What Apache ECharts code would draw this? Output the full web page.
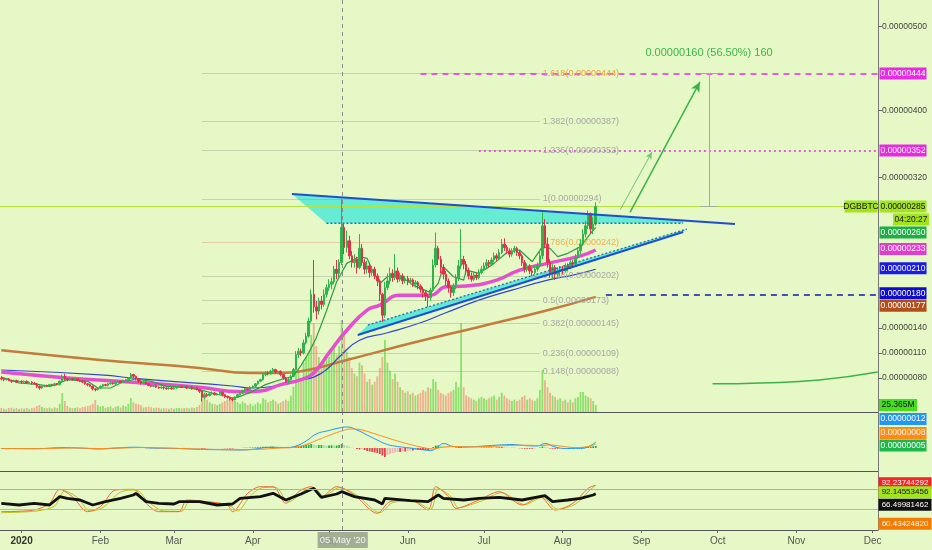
<!DOCTYPE html>
<html><head><meta charset="utf-8">
<script src="https://cdn.jsdelivr.net/npm/echarts@6/dist/echarts.min.js"></script>
<style>html,body{margin:0;padding:0;background:#e5f8c6;}#c{width:932px;height:550px;}</style>
</head><body><div id="c"></div>
<script>
// ---------- DATA (prices in satoshi, 1e-8 BTC); x = day index from 1 Jan 2020 ----------
const firstDay = -8; // 24 Dec 2019
const ohlc = [ // [open, close, low, high]
[80,79,77,82],[79,78,76,80],[78,79,77,80],[79,77,76,80],[77,76,74,78],[76,77,75,78],[77,75,74,78],[75,76,74,77],
[76,75,73,77],[75,76,74,77],[76,74,73,77],[74,75,73,76],[75,74,72,76],[74,73,72,75],[73,70,68,74],[70,68,66,71],[68,70,67,71],[70,71,69,72],
[71,70,69,72],[70,72,69,73],[72,71,70,73],[71,73,70,74],[73,72,71,74],[72,76,71,77],[76,82,75,84],[82,79,77,85],[79,78,76,80],[78,79,77,80],
[79,78,77,80],[78,79,77,80],[79,77,76,80],[77,76,75,78],[76,75,74,77],[75,73,72,76],[73,72,70,74],[72,70,69,73],[70,67,65,71],[67,66,64,68],
[66,68,65,69],
[68,70,67,71],[70,72,69,73],[72,71,70,73],[71,73,70,74],[73,74,72,75],[74,73,72,75],[73,75,72,76],[75,76,74,77],[76,75,74,77],[75,77,74,78],
[77,78,76,79],[78,80,77,81],[80,84,79,86],[84,82,80,85],[82,79,77,83],[79,76,74,80],[76,74,72,77],[74,75,73,76],[75,73,72,76],[73,71,70,74],
[71,70,69,72],[70,71,69,72],[71,69,68,72],[69,68,67,70],[68,69,67,70],[69,68,66,70],[68,67,66,69],[67,68,66,69],[68,67,66,69],
[67,68,66,69],[68,69,67,70],[69,70,68,71],[70,69,68,71],[69,70,68,71],[70,68,67,71],[68,69,67,70],[69,67,66,70],[67,68,66,69],[68,66,65,69],
[66,64,62,67],[64,57,52,65],[57,60,55,62],[60,59,57,62],[59,61,58,63],[61,62,60,64],[62,60,59,63],[60,61,59,62],[61,63,60,64],[63,60,58,64],
[60,58,56,61],[58,57,55,59],[57,55,53,58],[55,54,52,56],[54,57,53,58],[57,60,56,61],[60,62,59,63],[62,65,61,66],[65,67,64,68],[67,66,65,68],
[66,69,65,70],
[69,70,68,71],[70,73,69,74],[73,76,72,77],[76,78,75,79],[78,84,77,86],[84,86,82,88],[86,85,83,88],[85,88,84,90],[88,90,86,92],[90,87,85,91],
[87,88,85,89],[88,84,82,89],[84,80,78,85],[80,76,74,81],[76,78,74,80],[78,82,77,84],[82,90,81,92],[90,108,89,112],[108,112,104,116],[112,110,106,115],
[110,122,108,126],[122,130,120,134],[130,148,128,152],[148,180,146,186],[180,165,158,221],[165,160,150,172],[160,172,156,176],[172,168,162,178],[168,180,165,186],[180,188,176,192],
[188,192,184,198],[192,195,186,200],[195,210,192,214],[210,205,198,221],[205,218,200,222],[218,260,215,294],[260,236,228,265],[236,244,230,256],[244,226,222,250],[226,218,212,232],
[218,222,212,228],[222,212,205,225],[212,235,210,252],[235,218,214,240],[218,210,204,222],[210,214,205,220],[214,206,200,218],[206,210,202,214],[210,202,198,213],[202,196,190,205],
[196,180,172,198],[180,155,147,182],[155,188,152,195],[188,196,185,205],[196,205,192,212],[205,200,195,210],[200,208,197,228],[208,198,194,212],[198,202,195,206],[202,196,192,205],
[196,199,193,202],
[199,195,191,202],[195,197,192,200],[197,192,189,199],[192,194,188,197],[194,190,186,196],[190,186,182,192],[186,182,176,189],[182,178,172,185],[178,176,165,180],[176,185,172,188],
[185,215,183,222],[215,235,212,254],[235,222,215,238],[222,212,205,226],[212,204,198,216],[204,196,190,208],[196,188,182,199],[188,182,176,190],[182,190,178,193],[190,200,186,204],
[200,214,196,221],[214,222,210,258],[222,216,210,226],[216,208,204,220],[208,202,198,212],[202,198,195,206],[198,203,196,207],[203,200,197,206],[200,206,198,210],[206,210,204,214],
[210,214,208,218],[214,218,211,222],[218,216,212,221],[216,221,214,224],[221,226,218,230],[226,223,220,229],[223,230,221,234],[230,240,228,246],[240,236,232,247],[236,232,228,239],
[232,228,224,235],[228,232,225,235],[232,235,229,238],[235,230,226,237],[230,226,222,233],[226,218,214,228],[218,210,206,221],[210,214,207,217],[214,208,204,216],[208,206,202,211],
[206,210,204,214],[210,214,207,218],[214,226,212,232],[226,262,222,278],[262,240,235,270],[240,218,212,248],[218,206,200,222],[206,212,198,216],[212,204,197,215],[204,208,199,212],
[208,210,201,214],
[210,208,204,214],[208,214,206,217],[214,212,208,217],[212,218,210,222],[218,216,212,221],[216,224,214,228],[224,232,222,236],[232,240,228,246],[240,252,238,258],[252,262,248,268],
[262,276,258,280],[276,258,252,278],[258,264,252,272],[264,285,262,290]
];
const volume = [ // millions DGB
15,12,10,14,16,12,14,11,
13,12,15,11,14,16,22,25,18,15,14,16,13,17,14,30,69,40,22,16,14,15,17,14,18,20,22,24,30,44,25,
20,22,15,18,20,14,19,22,16,24,20,30,51,35,30,28,25,16,18,20,17,14,16,15,12,14,13,12,14,
12,14,15,13,14,15,13,16,14,18,25,80,75,45,35,30,28,25,30,35,40,45,50,55,40,35,30,38,32,25,30,
22,28,35,30,50,45,35,40,45,38,30,35,40,45,40,60,92,140,150,120,180,200,220,280,324,240,200,180,190,210,
200,220,230,210,240,335,280,220,200,160,140,130,180,170,140,110,120,100,110,130,160,200,262,180,150,120,140,110,90,80,70,
75,65,70,60,65,70,80,75,90,85,120,110,80,70,65,60,70,75,80,110,90,324,90,60,55,50,45,40,50,55,
50,45,50,55,60,45,55,70,60,50,45,40,45,40,45,55,60,45,50,45,40,50,80,153,116,90,70,60,55,45,50,
40,45,35,45,35,50,55,73,73,60,55,50,40,25.365
];
// moving averages read at sample days: [day, value]
const ma200 = [[-8,113],[31,101.5],[70,92],[90,86],[102,86],[110,88],[128,101.5],[154,122],[180,141],[207,161],[226,177]];
const ma100 = [[-8,89.5],[31,83.6],[47,78.8],[83,70.4],[91,68],[102,71.6],[110,77.6],[115,81],[120,90],[125,105],[133,125],[144,134],[157,146],[167,158],[180,173],[193,185],[207,197],[217,203],[226,210]];
const ma50 = [[-8,87],[18,80],[44,75],[70,69],[86,63.5],[94,64.5],[102,72],[110,78],[115,86],[121,110],[128,137],[136,161],[141,167],[149,179],[161,179],[167,189],[175,190],[187,197],[196,209],[207,217],[220,226],[226,233]];
const maFast = [[-8,81],[-1,74],[7,72],[11,70],[15,74],[18,78],[26,76],[30,68],[35,68],[39,74],[45,79],[51,76],[57,70],[64,69],[70,66],[75,62],[83,56],[86,58],[91,64],[96,72],[103,79],[107,82],[110,95],[113,110],[116,128],[120,160],[124,195],[128,217],[133,225],[136,223],[138,209],[141,193],[144,201],[148,205],[154,191],[161,182],[164,193],[166,213],[170,201],[174,197],[175,209],[180,205],[186,217],[191,230],[196,233],[201,219],[205,237],[208,235],[211,225],[215,229],[220,237],[224,253],[226,260]];
const greenCurve = [[272,73],[291,74],[314,77.5],[337,87]];
// MACD pane
const macdLine = [[-8,-1],[5,-1.5],[16,0.5],[25,-0.5],[30,-2],[38,0],[44,1.5],[52,0],[62,-1],[72,-3],[80,-3.5],[86,-4],[92,-2],[98,1.5],[104,1],[108,4],[112,14],[116,28],[121,35],[125,40],[128,42],[132,36],[136,26],[140,16],[144,7],[148,3],[153,0],[157,-3],[161,-5],[164,3],[166,9],[170,3],[175,2],[182,4],[188,6],[193,7],[198,5],[203,4],[206,9],[210,2],[215,-1],[220,-1],[224,5],[226,12]];
const signalLine = [[-8,-1],[10,-1],[20,0],[30,-1],[40,0],[48,1],[56,0],[66,-1.5],[76,-3],[86,-3.5],[94,-2.5],[102,0],[108,2],[112,7],[116,15],[121,25],[126,34],[130,38],[134,36],[138,30],[143,22],[148,14],[153,7],[158,1],[162,-2],[166,2],[170,3],[176,2.5],[184,3],[192,5],[198,5.5],[204,5],[208,6],[212,4],[218,1],[222,2],[226,8]];
const macdHist = [
-0.5,-0.6,-0.5,-0.7,-0.8,-0.6,-0.7,-0.5,
-0.4,-0.3,-0.4,-0.3,-0.4,-0.5,-0.8,-1,-0.7,-0.4,-0.3,-0.1,0.1,0.2,0.3,0.6,
1.5,1.6,1.3,1,0.8,0.6,0.3,0.1,-0.2,-0.5,-0.7,-0.9,-1.2,-1.4,-1.1,
-0.8,-0.4,-0.2,0.1,0.3,0.4,0.5,0.7,0.7,0.9,1,1.2,1.8,1.6,1.1,
0.6,0.2,0,-0.3,-0.5,-0.6,-0.6,-0.7,-0.7,-0.6,-0.6,-0.6,-0.5,-0.5,
-0.4,-0.2,0,0.1,0.2,0.1,0.1,0,0,-0.2,-0.5,-1.5,-1.6,-1.4,-1.1,-0.8,
-0.7,-0.6,-0.3,-0.4,-0.6,-0.8,-1,-1.1,-0.8,-0.4,0,0.4,0.7,0.7,0.9,
1,1.3,1.6,1.8,2.3,2.6,2.5,2.6,2.7,2.2,1.8,1.2,0.5,-0.2,-0.2,0.3,1.2,3,4,4,5,6,7,8,7,6,6,6,5.5,5,
5,5.5,5,5,6,8,6,5,3,1,0,-2,-3,-2,-4,-6,-7,-8,-9,-10,-12,-15,-18,-14,-12,-10,-9,-8,-8,-7,-7,
-6,-5,-5,-4,-4,-4,-4,-4,-4,-3,2,5,5,4,3,2,1,0,0,1,2,3,2,1,0.5,0,0,0.5,0.5,1,
1,1,1,1.2,1,1.2,1.5,2,1.5,1,0.5,0.5,0.5,0,-0.5,-1,-1.5,-1.5,-1.5,-1.5,-1,0,1,3,2.5,1,-1,-1.5,-1.5,-1.5,-1,
-1,-0.5,-0.5,0,0,0.5,1,1.5,2,2.5,3,3,3.5,4
];
// RSI / stochastic pane
const rsiLine = [[-8,38],[-1,33],[5,38],[11,33],[15,58],[18,53],[23,48],[28,33],[33,43],[39,53],[44,63],[45,68],[49,43],[54,38],[60,36],[62,43],[70,43],[77,33],[83,36],[86,53],[94,58],[99,68],[104,48],[110,66],[115,83],[118,56],[124,66],[126,73],[131,58],[139,48],[142,36],[143,53],[153,46],[160,43],[164,63],[166,53],[174,48],[180,53],[188,56],[197,48],[206,61],[209,43],[215,48],[220,53],[225,63],[226,66.5]];
const stochK = [[-8,13],[5,18],[11,38],[15,80],[20,58],[26,13],[31,28],[37,78],[44,80],[49,38],[54,13],[62,13],[65,48],[73,43],[81,33],[83,13],[89,68],[94,88],[99,88],[104,38],[107,58],[110,78],[114,88],[118,58],[124,88],[131,63],[140,8],[145,43],[153,48],[160,18],[163,88],[168,58],[171,23],[180,48],[188,73],[197,33],[204,58],[210,18],[217,38],[223,83],[226,92.2]];
const stochD = [[-8,10],[6,15],[13,30],[17,75],[22,55],[27,15],[32,25],[39,72],[45,78],[50,42],[56,15],[63,14],[66,42],[74,42],[82,30],[85,15],[90,60],[95,85],[100,86],[105,42],[108,55],[111,75],[115,85],[119,60],[125,85],[132,62],[141,10],[146,40],[154,46],[161,20],[164,82],[169,58],[172,25],[181,45],[189,70],[198,34],[205,56],[211,20],[218,36],[224,80],[226,92.1]];
const rsiBands = [80, 20];
// drawings
const fibLevels = [1.618,1.382,1.236,1,0.786,0.618,0.5,0.382,0.236,0.148];
const fibValues = [444,387,352,294,242,202,173,145,109,88];
const fibDays = [71, 204];
const triTop = [[106.4,300],[280.8,264]];
const triBase = [[120,265],[260.4,265]];
const triLow = [[132.3,131.4],[260.4,254.5]];
const triLowDots = [[136.3,143.3],[261.9,258.1]];
const triFill = [[106.4,300],[260.4,268.2],[260.4,265],[120,265]];
const chanFill = [[132.3,131.4],[260.4,254.5],[261.9,258.1],[136.3,143.3]];
const targetLines = [[157,444],[180,352],[230,180]]; // [start day, price]
const bigArrow = [[239.5,278],[267,434]];
const smallArrow = [[235.6,281],[248.1,350]];
const measure = {day:270.6, from:285, to:444, textAt:468, delta:160, pct:56.50, bars:160};
const crosshairDay = 126.4, crosshairText = "05 May '20";
const lastPrice = 285, symbolName = 'DGBBTC', countdown = '04:20:27';
const priceLabels = [444, 352, 285, 260, 233, 210, 180, 177];
const priceTicks = [80, 110, 140, 320, 400, 500];
const volumeLabel = 25.365;
const macdLabels = [12, 8, 5];
const rsiLabels = [92.23744292, 92.14553456, 66.49981462, 60.43424820];
const monthStarts = [0,31,60,91,121,152,182,213,244,274,305,335];
const monthLabels = ['2020','Feb','Mar','Apr','May','Jun','Jul','Aug','Sep','Oct','Nov','Dec'];

// ---------- helpers ----------
const pts = a => a.map(p => [p[0], p[1]]);
const xMin = -8.5, xMax = 337.1;
const FONT = "'Liberation Sans', Arial, sans-serif";
const NARROW = "'Liberation Sans Narrow','Arial Narrow','Liberation Sans',sans-serif";
const sat = v => (v / 1e8).toFixed(8);

const candleData = ohlc.map((r, i) => [firstDay + i, r[0], r[1], r[2], r[3]]);
const volData = volume.map((v, i) => [firstDay + i, v]);
const histData = macdHist.map((v, i) => [firstDay + i, v]);

function box(v, text, bg, fg, w, dx, dy, fs) {
  return { coord: [xMax, v], symbol: 'rect', symbolSize: [w, 12], symbolOffset: [dx, dy],
    itemStyle: { color: bg },
    label: { show: true, position: 'inside', formatter: text, color: fg, fontSize: fs || 8.5, fontFamily: NARROW } };
}
const priceStyle = [
  ['#e82ae5','#fff',0], ['#e82ae5','#fff',0], ['#a3e41c','#111',0], ['#1fae45','#fff',5],
  ['#e23ccf','#fff',-1], ['#1a1ae6','#fff',-1], ['#0d0dc8','#fff',-1], ['#b04f1c','#fff',9]
];
const mainBoxes = priceLabels.map((v, i) => box(v, sat(v), priceStyle[i][0], priceStyle[i][1], 47, 25, priceStyle[i][2]));
mainBoxes.push(box(lastPrice, symbolName, '#a3e41c', '#111', 33, -17, 0));
mainBoxes.push(box(lastPrice, countdown, '#a3e41c', '#111', 36, 33, 13));
mainBoxes.push({ coord: [measure.day, measure.textAt], symbol: 'rect', symbolSize: [1,1],
  itemStyle: { color: 'rgba(0,0,0,0)' },
  label: { show: true, position: 'inside', color: '#3bb54a', fontSize: 11, fontFamily: FONT,
    formatter: sat(measure.delta) + ' (' + measure.pct.toFixed(2) + '%) ' + measure.bars } });

const fibColors = ['#f0a23a','#a8a8a8','#a8a8a8','#a8a8a8','#f0b050','#a8a8a8','#a8a8a8','#a8a8a8','#a8a8a8','#a8a8a8'];
const mainLines = [];
fibValues.forEach((v, i) => {
  mainLines.push([
    { coord: [fibDays[0], v], lineStyle: { color: i === 4 ? 'rgba(230,150,120,0.45)' : 'rgba(140,150,130,0.35)', width: 1, type: 'solid' } },
    { coord: [fibDays[1], v], label: { show: true, position: 'end', distance: 3, formatter: fibLevels[i] + '(' + sat(v) + ')', color: fibColors[i], fontSize: 9, fontFamily: FONT } }
  ]);
});
const tlStyle = [
  { color: '#e82ae5', width: 1.6, type: [6, 5] },
  { color: '#e82ae5', width: 1.6, type: [2, 3] },
  { color: '#1414b4', width: 1.6, type: [6, 5] }
];
targetLines.forEach((l, i) => mainLines.push([{ coord: [l[0], l[1]], lineStyle: tlStyle[i] }, { coord: [xMax, l[1]] }]));
mainLines.push([{ coord: [xMin, lastPrice], lineStyle: { color: '#b6e03c', width: 1, type: 'solid' } }, { coord: [xMax, lastPrice] }]);
mainLines.push([{ coord: bigArrow[0], lineStyle: { color: '#3cb34a', width: 1.5, type: 'solid' } },
  { coord: bigArrow[1], symbol: 'arrow', symbolSize: [7, 10] }]);
mainLines.push([{ coord: smallArrow[0], lineStyle: { color: '#74c477', width: 1, type: 'solid' } },
  { coord: smallArrow[1], symbol: 'arrow', symbolSize: [5, 7] }]);
const mStyle = { color: '#9fb09a', width: 1, type: 'solid' };
mainLines.push([{ coord: [measure.day, measure.from], lineStyle: mStyle }, { coord: [measure.day, measure.to] }]);
mainLines.push([{ coord: [measure.day - 3.5, measure.from], lineStyle: mStyle }, { coord: [measure.day + 3.5, measure.from] }]);
mainLines.push([{ coord: [measure.day - 3.5, measure.to], lineStyle: mStyle }, { coord: [measure.day + 3.5, measure.to] }]);
const crossStyle = { color: '#8c8c8c', width: 1, type: [4, 4] };
mainLines.push([{ coord: [crosshairDay, 39.3], lineStyle: crossStyle }, { coord: [crosshairDay, 531.9] }]);

function poly(points, fill) {
  const P = pts(points);
  return { type: 'custom', xAxisIndex: 0, yAxisIndex: 0, z: 2, silent: true, data: P,
    renderItem: (params, api) => {
      if (params.dataIndex !== 0) return null;
      return { type: 'polygon', shape: { points: P.map(p => api.coord(p)) }, style: { fill: fill } };
    } };
}
function line(data, color, width, extra) {
  return Object.assign({ type: 'line', xAxisIndex: 0, yAxisIndex: 0, data: pts(data), symbol: 'none', silent: true,
    lineStyle: { color: color, width: width }, z: 3 }, extra || {});
}

const upC = '#2fb44b', dnC = '#e2304c';
const hidden = { show: false };
const xBase = { type: 'value', min: xMin, max: xMax, splitLine: hidden, axisTick: hidden, axisLabel: hidden,
  axisLine: { show: true, onZero: false, lineStyle: { color: '#555', width: 1 } } };

const option = {
  animation: false,
  backgroundColor: '#e5f8c6',
  textStyle: { fontFamily: FONT },
  grid: [
    { left: 0, right: 54, top: 0, height: 412, outerBoundsMode: 'none' },
    { left: 0, right: 54, top: 413, height: 58, outerBoundsMode: 'none' },
    { left: 0, right: 54, top: 472, height: 58, outerBoundsMode: 'none' }
  ],
  xAxis: [
    Object.assign({}, xBase, { gridIndex: 0 }),
    Object.assign({}, xBase, { gridIndex: 1 }),
    Object.assign({}, xBase, { gridIndex: 2,
      axisTick: { show: true, length: 3, customValues: monthStarts, lineStyle: { color: '#666' } },
      axisLabel: { show: true, customValues: monthStarts, color: '#555', fontSize: 10, margin: 6,
        formatter: v => { const i = monthStarts.indexOf(v); return i === 0 ? '{b|' + monthLabels[0] + '}' : (i > 0 ? monthLabels[i] : ''); },
        rich: { b: { fontWeight: 'bold', fontSize: 10, color: '#333' } } } })
  ],
  yAxis: [
    { gridIndex: 0, type: 'value', position: 'right', min: 39.3, max: 531.9, splitLine: hidden,
      axisLine: { show: true, onZero: false, lineStyle: { color: '#777' } },
      axisTick: { show: true, length: 4, customValues: priceTicks, lineStyle: { color: '#666' } },
      axisLabel: { show: true, customValues: priceTicks, formatter: v => sat(v), color: '#444', fontSize: 8.5, fontFamily: NARROW, margin: 4 } },
    { gridIndex: 0, type: 'value', min: 0, max: 1500, show: false },
    { gridIndex: 1, type: 'value', position: 'right', min: -46, max: 70, splitLine: hidden,
      axisLine: { show: true, onZero: false, lineStyle: { color: '#777' } }, axisTick: hidden, axisLabel: hidden },
    { gridIndex: 2, type: 'value', position: 'right', min: -42, max: 132, splitLine: hidden,
      axisLine: { show: true, onZero: false, lineStyle: { color: '#777' } }, axisTick: hidden, axisLabel: hidden }
  ],
  series: [
    { type: 'bar', name: 'Volume', xAxisIndex: 0, yAxisIndex: 1, data: volData, barWidth: 1.8, z: 1, silent: true,
      itemStyle: { color: p => { const r = ohlc[p.dataIndex]; return r[1] >= r[0] ? 'rgba(104,214,70,0.7)' : 'rgba(240,140,110,0.65)'; } },
      markPoint: { silent: true, data: [box(volumeLabel, volumeLabel + 'M', '#45df1e', '#111', 38, 20, 0)] } },
    poly(triFill, 'rgba(70,232,214,0.8)'),
    poly(chanFill, 'rgba(70,232,214,0.85)'),
    line(ma200, '#c47c3e', 2.5, { smooth: true }),
    line(ma100, '#3346cf', 1.2, { smooth: true }),
    line(ma50, '#e54fcf', 3.5, { smooth: true }),
    line(maFast, '#2e9e3e', 1.2),
    line(greenCurve, '#3cb34a', 1.5, { smooth: true }),
    { type: 'candlestick', name: 'DGBBTC', xAxisIndex: 0, yAxisIndex: 0, data: candleData, barWidth: 2, z: 5, clip: false, silent: true,
      itemStyle: { color: upC, color0: dnC, borderColor: upC, borderColor0: dnC, borderWidth: 1 },
      markLine: { silent: true, symbol: ['none', 'none'], label: { show: false }, data: mainLines },
      markPoint: { silent: true, data: mainBoxes } },
    line(triTop, '#1f4fcc', 2, { z: 6 }),
    line(triLow, '#1f4fcc', 2, { z: 6 }),
    line(triBase, '#2a6cb0', 1.3, { z: 6, lineStyle: { color: '#2a6cb0', width: 1.3, type: [2, 2] } }),
    line(triLowDots, '#2a6cb0', 1.3, { z: 6, lineStyle: { color: '#2a6cb0', width: 1.3, type: [2, 2] } }),
    // MACD pane
    { type: 'bar', xAxisIndex: 1, yAxisIndex: 2, data: histData, barWidth: 1.8, silent: true,
      itemStyle: { color: p => { const v = macdHist[p.dataIndex]; const pv = p.dataIndex > 0 ? macdHist[p.dataIndex - 1] : v;
        return v >= 0 ? (v >= pv ? '#27b446' : '#a9e29c') : (v <= pv ? '#e8404c' : '#f2b4b4'); } } },
    { type: 'line', xAxisIndex: 1, yAxisIndex: 2, data: pts(macdLine), symbol: 'none', smooth: true, silent: true, clip: false,
      lineStyle: { color: '#2196f3', width: 1 },
      markLine: { silent: true, symbol: ['none','none'], label: { show: false }, data: [[{ coord: [crosshairDay, -46], lineStyle: crossStyle }, { coord: [crosshairDay, 70] }]] },
      markPoint: { silent: true, data: [
        box(macdLabels[0], sat(macdLabels[0]), '#2196f3', '#fff', 47, 25, -23),
        box(macdLabels[1], sat(macdLabels[1]), '#ff8a14', '#fff', 47, 25, -11),
        box(macdLabels[2], sat(macdLabels[2]), '#1eb84a', '#fff', 47, 25, 0) ] } },
    { type: 'line', xAxisIndex: 1, yAxisIndex: 2, data: pts(signalLine), symbol: 'none', smooth: true, silent: true,
      lineStyle: { color: '#ff8c1a', width: 1 } },
    // RSI pane
    { type: 'line', xAxisIndex: 2, yAxisIndex: 3, data: pts(stochD), symbol: 'none', smooth: 0.3, silent: true,
      lineStyle: { color: '#b8c41c', width: 1 } },
    { type: 'line', xAxisIndex: 2, yAxisIndex: 3, data: pts(stochK), symbol: 'none', smooth: 0.3, silent: true,
      lineStyle: { color: '#ef6b3a', width: 1 },
      markLine: { silent: true, symbol: ['none','none'], label: { show: false }, data: [
        [{ coord: [xMin, rsiBands[0]], lineStyle: { color: '#f09090', width: 1, type: 'solid' } }, { coord: [xMax, rsiBands[0]] }],
        [{ coord: [xMin, rsiBands[1]], lineStyle: { color: '#8fd48f', width: 1, type: 'solid' } }, { coord: [xMax, rsiBands[1]] }] ] } },
    { type: 'line', xAxisIndex: 2, yAxisIndex: 3, data: pts(rsiLine), symbol: 'none', silent: true, clip: false,
      lineStyle: { color: '#111', width: 2.8 },
      markLine: { silent: true, symbol: ['none','none'], data: [[{ coord: [crosshairDay, -42], lineStyle: crossStyle,
        label: { show: true, position: 'start', distance: 2, formatter: crosshairText, color: '#f4f4f4', fontSize: 9.5,
          backgroundColor: 'rgba(150,162,140,0.85)', padding: [3, 2] } }, { coord: [crosshairDay, 132] }]] },
      markPoint: { silent: true, data: [
        box(rsiLabels[0], rsiLabels[0].toFixed(8), '#f22424', '#fff', 53, 27, -2, 8),
        box(rsiLabels[1], rsiLabels[1].toFixed(8), '#a3e41c', '#111', 53, 27, 7, 8),
        box(rsiLabels[2], rsiLabels[2].toFixed(8), '#111111', '#fff', 53, 27, 11, 8),
        box(rsiLabels[3], rsiLabels[3].toFixed(8), '#f57c00', '#fff', 53, 27, 28, 8) ] } }
  ]
};
const chart = echarts.init(document.getElementById('c'));
chart.setOption(option);
</script>
</body></html>
